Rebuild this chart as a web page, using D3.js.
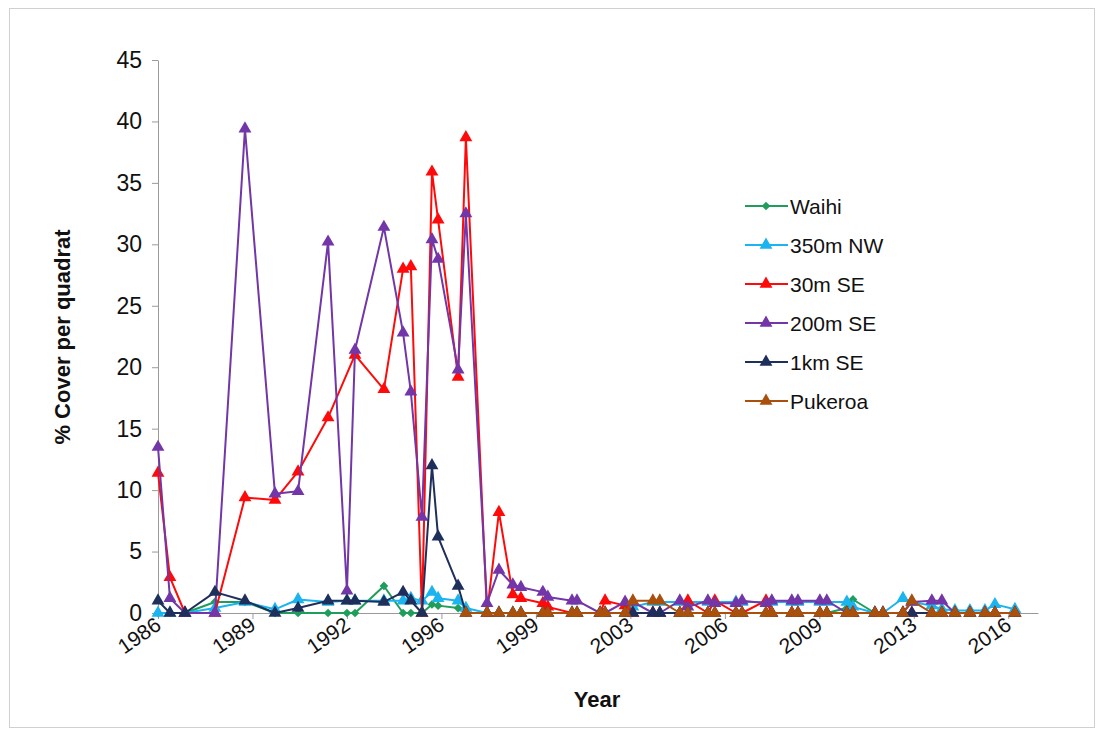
<!DOCTYPE html>
<html><head><meta charset="utf-8">
<script src="https://cdn.jsdelivr.net/npm/d3@7"></script>
<style>body{margin:0;background:#fff;} svg{display:block;} text{font-family:"Liberation Sans",Arial,sans-serif;fill:#111;}</style>
</head><body><svg id="c" width="1104" height="731"></svg>
<script>
// sampling dates (decimal years)
const sampleDates = [1986.10,1986.53,1987.07,1988.15,1989.23,1990.31,1991.14,1992.22,1992.90,1993.19,
 1994.23,1994.92,1995.20,1995.60,1995.96,1996.18,1996.90,1997.18,1997.94,1998.37,
 1998.87,1999.16,1999.95,2000.13,2001.00,2001.18,2002.01,2002.19,2002.91,2003.19,
 2003.91,2004.16,2004.88,2005.17,2005.89,2006.14,2006.90,2007.12,2007.98,2008.19,
 2008.91,2009.13,2009.92,2010.17,2010.89,2011.11,2011.90,2012.19,2012.91,2013.23,
 2013.95,2014.31,2014.78,2015.32,2015.86,2016.22,2016.94];

const waihi = [0,0,0,0.9,0.9,0,0,0,0,0, 2.2,0,0,0,0.7,0.6,0.4,0,0,0, 0,0,0,0,0,0,0,0,0,0,
 0,0,0,0,0,0,0,0,0,0, 0,0,0,0,0.4,1.1,0,0,0,0, 0,0,0,0,0,0,0];
const nw350 = [0,0,0,0.4,0.9,0.3,1.1,0.9,1.0,1.0, 1.0,1.0,1.2,1.0,1.7,1.2,1.0,0.4,0,0, 0,0,0,0,0,0,0,0,0,0.5,
 0.9,0.9,0.9,0.9,0.9,0.9,0.9,0.9,0.9,0.9, 0.9,0.9,0.9,0.9,0.9,0.5,0,0,1.2,0.9, 0.6,0.3,0.2,0.2,0.2,0.7,0.3];
const se30 = [11.4,2.9,0,0,9.4,9.2,11.5,15.9,null,21.0, 18.2,28.0,28.2,0,35.9,32.0,19.2,38.7,0,8.2,
 1.5,1.2,0.8,0.5,0,0,0,1.0,0.6,0, 0,0,0,1.0,0,1.0,0,0,1.0,0, 0,0,0,0,0,0,0,0,0,0, 0,0,0,0,0,0,0];
const se200 = [13.5,1.2,0,0,39.4,9.7,9.9,30.2,1.8,21.4, 31.4,22.8,18.0,7.8,30.4,28.8,19.8,32.5,0.8,3.5,
 2.3,2.1,1.7,1.3,1.0,1.0,0,0,0.9,0.9, 0,0,1.0,0.5,1.0,0.8,0.8,1.0,0.8,1.0, 1.0,1.0,1.0,1.0,0,0,0,0,0,0.9,
 1.0,1.0,0,0,0,0,0];
const se1km = [1.0,0,0,1.7,1.0,0,0.4,1.0,1.0,1.0, 0.9,1.7,1.0,0,12.0,6.2,2.2,0,0,0, 0,0,0,0,0,0,0,0,0,0,
 0,0,0,0,0,0,0,0,0,0, 0,0,0,0,0,0,0,0,0,0, 0,0,0,0,0,0,0];
const pukeroa = [null,null,null,null,null,null,null,null,null,null, null,null,null,null,null,null,null,0,0,0,
 0,0,0,0,0,0,0,0,0,1.0, 1.0,1.0,0,0,0,0,0,0,0,0, 0,0,0,0,0,0,0,0,0,1.0, 0,0,0,0,0,0,0];

const seriesNames = ["Waihi","350m NW","30m SE","200m SE","1km SE","Pukeroa"];
const seriesColors = ["#1e9e5a","#1cb4ee","#ff0a0a","#7236a8","#1f2f5c","#a8500c"];
const seriesMarkers = ["diamond","triangle","triangle","triangle","triangle","triangle"];
const seriesValues = [waihi,nw350,se30,se200,se1km,pukeroa];

const yTicks = [0,5,10,15,20,25,30,35,40,45];
const xTickDates = [1986.1,1989.5,1992.9,1996.3,1999.7,2003.1,2006.5,2009.9,2013.3,2016.7];
const xTickLabels = ["1986","1989","1992","1996","1999","2003","2006","2009","2013","2016"];

const svg = d3.select("#c");
svg.append("rect").attr("x",9.5).attr("y",8.5).attr("width",1085).attr("height",719)
  .attr("fill","#fff").attr("stroke","#d0d0d0");

const x = d3.scaleLinear().domain([1986.1, 2017.77]).range([158, 1038]);
const y = d3.scaleLinear().domain([0,45]).range([613, 60]);

// y axis
const ya = svg.append("g").attr("transform","translate(158,0)")
  .call(d3.axisLeft(y).tickValues(yTicks).tickSize(6).tickSizeOuter(0).tickPadding(10));
ya.select(".domain").attr("stroke","#9a9a9a");
ya.selectAll(".tick line").attr("stroke","#9a9a9a");
ya.selectAll(".tick text").attr("font-size",23).attr("font-family","Liberation Sans, Arial, sans-serif").attr("fill","#111");

// x axis
const xa = svg.append("g").attr("transform","translate(0,613)")
  .call(d3.axisBottom(x).tickValues(xTickDates).tickFormat((d,i)=>xTickLabels[i]).tickSize(6).tickSizeOuter(0));
xa.select(".domain").attr("stroke","#9a9a9a");
xa.selectAll(".tick line").attr("stroke","#9a9a9a");
xa.selectAll(".tick text").attr("font-size",21).attr("font-family","Liberation Sans, Arial, sans-serif").attr("fill","#111")
  .attr("text-anchor","end").attr("dy",0).attr("y",0)
  .attr("transform","translate(4,15) rotate(-35)");

// titles
svg.append("text").attr("x",597).attr("y",707).attr("text-anchor","middle")
  .attr("font-size",22).attr("font-weight","bold").text("Year");
svg.append("text").attr("transform","translate(70,337) rotate(-90)").attr("text-anchor","middle")
  .attr("font-size",22).attr("font-weight","bold").text("% Cover per quadrat");

const tri = d3.symbol().type(d3.symbolTriangle).size(72);
const dia = d3.symbol().type(d3.symbolSquare).size(38);

const line = d3.line().x(d=>x(d[0])).y(d=>y(d[1]));
const plot = svg.append("g");
seriesValues.forEach((vals,si)=>{
  const pts = sampleDates.map((t,i)=>[t,vals[i]]).filter(p=>p[1]!=null);
  const g = plot.append("g");
  g.append("path").datum(pts).attr("d",line).attr("fill","none")
    .attr("stroke",seriesColors[si]).attr("stroke-width",2).attr("stroke-linejoin","round");
  g.selectAll("path.m").data(pts).enter().append("path").attr("class","m")
    .attr("d", seriesMarkers[si]==="diamond" ? dia() : tri())
    .attr("transform", d=> seriesMarkers[si]==="diamond"
        ? `translate(${x(d[0])},${y(d[1])}) rotate(45)`
        : `translate(${x(d[0])},${y(d[1])})`)
    .attr("fill",seriesColors[si]);
});

// legend
const lg = svg.append("g");
seriesNames.forEach((n,i)=>{
  const yy = 206 + i*39;
  lg.append("line").attr("x1",745).attr("x2",788).attr("y1",yy).attr("y2",yy)
    .attr("stroke",seriesColors[i]).attr("stroke-width",2);
  lg.append("path").attr("d", seriesMarkers[i]==="diamond" ? dia() : tri())
    .attr("transform", seriesMarkers[i]==="diamond" ? `translate(766,${yy}) rotate(45)` : `translate(766,${yy})`)
    .attr("fill",seriesColors[i]);
  lg.append("text").attr("x",790).attr("y",yy).attr("dy","0.36em").attr("font-size",21).text(n);
});
</script></body></html>
